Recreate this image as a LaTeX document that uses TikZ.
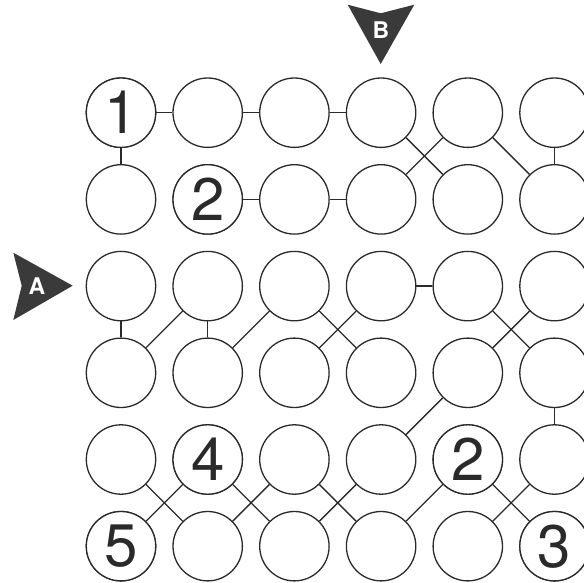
\documentclass[tikz,border=0pt]{standalone}
\usepackage{fontspec}
\setmainfont{TeX Gyre Heros}
\definecolor{ink}{HTML}{2A2A2A}
\definecolor{marker}{HTML}{3A3A3A}
\tikzset{
  cell/.style={circle, draw=ink, line width=1.3pt, minimum size=69.4pt, inner sep=0pt, fill=white,
    font=\fontsize{60}{60}\selectfont, text=ink},
  link/.style={draw=ink, line width=1.3pt},
  tag/.style={fill=marker, draw=none},
  tagtext/.style={text=white, font=\fontsize{23}{23}\selectfont\bfseries, inner sep=0pt}
}
\begin{document}
\begin{tikzpicture}[x=1pt,y=-1pt]
\useasboundingbox (0,0) rectangle (584,583);
% circles
\foreach \i in {1,...,6}{
  \foreach \j in {1,...,6}{
    \node[cell] (c\i\j) at ({121+86.7*(\i-1)},{112.7+86.7*(\j-1)}) {};
  }
}
% numbers
\node[cell] at (c11) {1};
\node[cell] at (c22) {2};
\node[cell] at (c25) {4};
\node[cell] at (c16) {5};
\node[cell] at (c55) {2};
\node[cell] at (c66) {3};
% connectors
\foreach \a/\b in {c11/c21, c21/c31, c31/c41, c11/c12,
                   c41/c52, c51/c42, c51/c62, c61/c62,
                   c22/c32, c32/c42,
                   c43/c53,
                   c13/c14, c23/c14, c23/c24, c33/c24, c33/c44, c43/c34, c53/c64, c63/c54,
                   c54/c45, c64/c65,
                   c15/c26, c25/c16, c25/c36, c35/c26, c35/c46, c45/c36, c55/c46, c55/c66, c65/c56}{
  \draw[link] (\a) -- (\b);
}
% marker A
\fill[tag] (13.3,252.7) -- (72.7,285.7) -- (13.3,320) -- (21.7,285.7) -- cycle;
\node[tagtext] (tA) at (37,286) {A};
% marker B
\fill[tag] (347.7,4.7) -- (380.7,13.3) -- (414.3,4.7) -- (380.7,64) -- cycle;
\node[tagtext] (tB) at (381,30) {B};
\end{tikzpicture}
\end{document}
